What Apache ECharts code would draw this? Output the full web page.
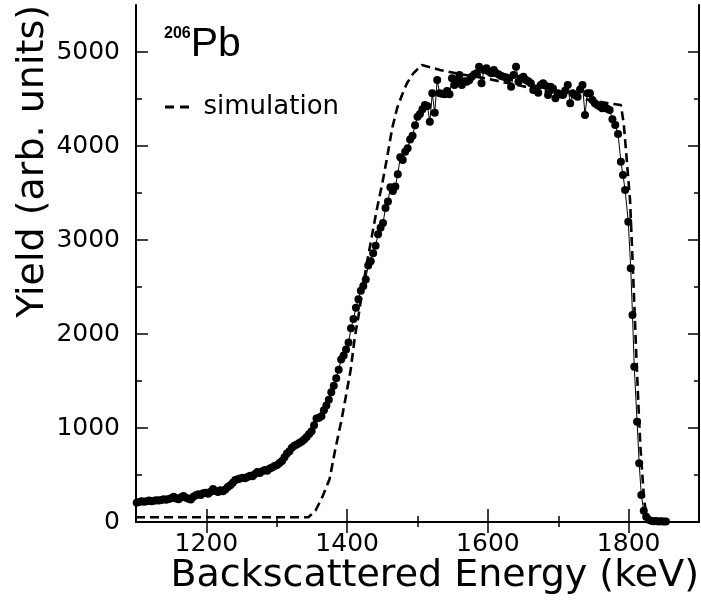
<!DOCTYPE html>
<html>
<head>
<meta charset="utf-8">
<script src="https://cdn.jsdelivr.net/npm/echarts@6/dist/echarts.min.js"></script>
<style>
html,body{margin:0;padding:0;background:#fff;}
#chart{width:701px;height:601px;}
</style>
</head>
<body>
<div id="chart"></div>
<script>
// ---- data ----
const energy = [
1101,1104.5,1108,1111.5,1115,1118.5,1122,1125.5,1129,1132.5,1136,1139.5,1143,1146.5,1150,1153.5,1157,1160.5,1164,1167.5,
1171,1174.5,1178,1181.5,1185,1188.5,1192,1195.5,1199,1202.5,1206,1209.5,1213,1216.5,1220,1223.5,1227,1230.5,1234,1237.5,
1241,1244.5,1248,1251.5,1255,1258.5,1262,1265.5,1269,1272.5,1276,1279.5,1283,1286.5,1290,1293.5,1297,1300.5,1304,1307.5,
1311,1314.5,1318,1321.5,1325,1328.5,1332,1335.5,1339,1342.5,1346,1349.5,1353,1356.5,1360,1363.5,1367,1370.5,1374,1377.5,
1381,1384.5,1388,1391.5,1395,1398.5,1402,1405.5,1409,1412.5,1416,1419.5,1423,1426.5,1430,1433.5,1437,1440.5,1444,1447.5,
1451,1454.5,1458,1461.5,1465,1468.5,1472,1475.5,1479,1482.5,1486,1489.5,1493,1496.5,1500,1503.5,1507,1510.5,1514,1517.5,
1521,1524.5,1528,1531.5,1535,1538.5,1542,1545.5,1549,1552.5,1556,1559.5,1563,1566.5,1570,1573.5,1577,1580.5,1584,1587.5,
1591,1594.5,1598,1601.5,1605,1608.5,1612,1615.5,1619,1622.5,1626,1629.5,1633,1636.5,1640,1643.5,1647,1650.5,1654,1657.5,
1661,1664.5,1668,1671.5,1675,1678.5,1682,1685.5,1689,1692.5,1696,1699.5,1703,1706.5,1710,1713.5,1717,1720.5,1724,1727.5,
1731,1734.5,1738,1741.5,1745,1748.5,1752,1755.5,1759,1762.5,1766,1769.5,1773,
1777,1781,1785,1789,1792,1795,1799.5,1803,1805.5,1808,1812,1815,1818,1821.5,1825,1828.5,1832,1835.5,1839,1842.5,1846,1849.5,1853
];
const yieldData = [
205,212,220,215,222,228,221,226,232,228,235,241,236,244,252,268,250,241,262,276,
258,248,240,268,284,296,288,305,312,300,322,352,330,318,338,326,345,372,392,418,
448,456,462,470,466,478,492,486,510,532,522,540,552,546,568,580,596,606,628,650,
690,728,752,790,812,825,840,856,878,905,935,965,1030,1100,1108,1125,1190,1240,1300,1380,
1450,1530,1620,1730,1770,1835,1910,2060,2160,2280,2370,2460,2510,2580,2730,2775,2860,2940,3060,3130,
3180,3340,3410,3560,3520,3570,3700,3880,3850,3940,3975,4070,4110,4220,4310,4340,4390,4436,4426,4259,
4560,4354,4702,4560,4555,4550,4585,4550,4720,4649,4700,4755,4649,4690,4684,4700,4737,4760,4773,4844,
4667,4809,4826,4790,4773,4809,4773,4760,4745,4737,4730,4720,4631,4755,4844,4684,4720,4737,4702,4690,
4667,4596,4613,4567,4649,4667,4640,4543,4631,4613,4507,4560,4550,4543,4590,4649,4454,4560,4540,4525,
4600,4649,4330,4560,4560,4489,4454,4436,4420,4401,4418,4395,4383,
4284,4223,4128,3833,3691,3532,3195,2699,2202,1652,1067,624,287,121,57,25,12,8,10,6,8,5,4
];
const simEnergy = [1100,1345,1355,1365,1375,1383,1392,1399,1405,1411,1416,1421,1428,1435,1442,1450,1457,1464,1471,1478,1485,1494,1506,1532,1555,1600,1650,1700,1750,1789,1793,1797,1802,1805,1808,1811,1814,1817,1820,1822,1825,1828,1832];
const simYield  = [50,50,120,270,454,766,1085,1369,1617,1971,2184,2433,2752,3035,3319,3603,3886,4188,4401,4543,4667,4773,4862,4809,4773,4714,4636,4557,4479,4436,4241,3886,3426,2894,2326,1759,1227,766,447,234,96,30,5];

const xMajorTicks = [1200,1400,1600,1800];
const xMinorTicks = [1300,1500,1700];
const yMajorTicks = [0,1000,2000,3000,4000,5000];
const yMinorTicks = [500,1500,2500,3500,4500];
const xTitle = 'Backscattered Energy (keV)';
const yTitle = 'Yield (arb. units)';
const isotopeMass = '206';
const isotopeSymbol = 'Pb';
const simName = 'simulation';

// ---- build ----
const FONT = 'DejaVu Sans';
const dataPairs = energy.map((e, i) => [e, yieldData[i]]);
const simPairs = simEnergy.map((e, i) => [e, simYield[i]]);
const plain = v => String(v);

function xAx(pos, ticks, len, main) {
  return {
    type: 'value', position: pos, min: 1100, max: 1900, gridIndex: 0,
    axisLine: { show: main, lineStyle: { color: '#000', width: 2 } },
    axisTick: { show: true, inside: true, length: len, customValues: ticks, lineStyle: { color: '#000', width: 1.5 } },
    axisLabel: { show: main && pos === 'bottom', customValues: ticks, margin: 10, formatter: plain,
      color: '#000', fontFamily: FONT, fontSize: 25 },
    splitLine: { show: false },
    name: (main && pos === 'bottom') ? xTitle : '',
    nameLocation: 'end', nameGap: 0, nameMoveOverlap: false,
    nameTextStyle: { fontFamily: FONT, fontSize: 38, color: '#000', align: 'right', verticalAlign: 'top',
      lineHeight: 38, padding: [35, 0, 0, 0] }
  };
}
function yAx(pos, ticks, len, main) {
  return {
    type: 'value', position: pos, min: 0, max: 5500, gridIndex: 0,
    axisLine: { show: main, lineStyle: { color: '#000', width: 2 } },
    axisTick: { show: true, inside: true, length: len, customValues: ticks, lineStyle: { color: '#000', width: 1.5 } },
    axisLabel: { show: main && pos === 'left', customValues: ticks, margin: 16, formatter: plain,
      color: '#000', fontFamily: FONT, fontSize: 25 },
    splitLine: { show: false },
    name: (main && pos === 'left') ? yTitle : '',
    nameLocation: 'end', nameGap: 0, nameRotate: 90, nameMoveOverlap: false,
    nameTextStyle: { fontFamily: FONT, fontSize: 38, color: '#000', align: 'right', verticalAlign: 'bottom',
      lineHeight: 38, padding: [0, 0, 84, 0] }
  };
}

const chart = echarts.init(document.getElementById('chart'), null, { renderer: 'canvas' });
chart.setOption({
  animation: false,
  backgroundColor: '#fff',
  grid: { left: 136, right: 2, top: 5, bottom: 79, containLabel: false, outerBoundsMode: 'none' },
  title: {
    left: 164, top: 24, padding: 0,
    text: '{s|' + isotopeMass + '}{p|' + isotopeSymbol + '}',
    textStyle: {
      fontWeight: 'normal',
      rich: {
        s: { fontFamily: 'Liberation Sans', fontSize: 16, fontWeight: 'bold', color: '#000', padding: [0, 0, 22, 0] },
        p: { fontFamily: 'Liberation Sans', fontSize: 41, fontWeight: 'normal', color: '#000' }
      }
    }
  },
  legend: {
    left: 165, top: 94, padding: 0, itemWidth: 25, itemHeight: 3,
    data: [{ name: simName, icon: 'path://M0,0H9V3H0Z M15,0H24V3H15Z' }],
    itemStyle: { color: '#000', borderWidth: 0 },
    textStyle: { fontFamily: FONT, fontSize: 26, color: '#000', padding: [0, 0, 0, 9] }
  },
  xAxis: [
    xAx('bottom', xMajorTicks, 13, true),
    xAx('bottom', xMinorTicks, 6, false),
    xAx('top', xMajorTicks, 11, true),
    xAx('top', xMinorTicks, 5, false)
  ],
  yAxis: [
    yAx('left', yMajorTicks, 12, true),
    yAx('left', yMinorTicks, 6, false),
    yAx('right', yMajorTicks, 11, true),
    yAx('right', yMinorTicks, 5, false)
  ],
  series: [
    {
      name: simName, type: 'line', data: simPairs, xAxisIndex: 0, yAxisIndex: 0,
      symbol: 'none', smooth: false, z: 2,
      lineStyle: { color: '#000', width: 2.6, type: [9, 5] },
      itemStyle: { color: '#000' }
    },
    {
      name: 'data', type: 'line', data: dataPairs, xAxisIndex: 0, yAxisIndex: 0,
      symbol: 'circle', symbolSize: 8, showAllSymbol: true, z: 3,
      lineStyle: { color: '#000', width: 1 },
      itemStyle: { color: '#000' }
    }
  ]
});
</script>
</body>
</html>
